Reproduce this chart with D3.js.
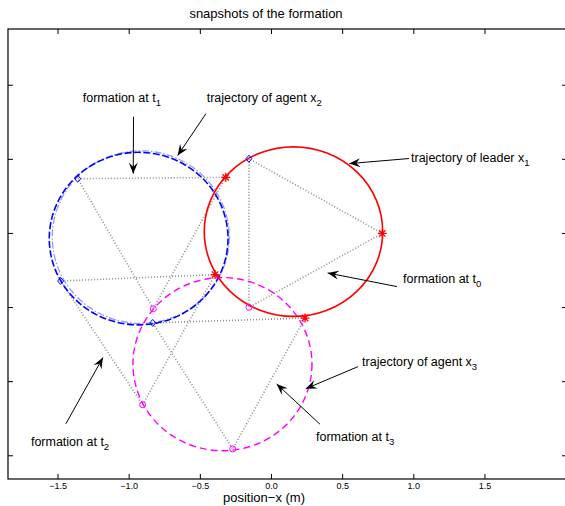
<!DOCTYPE html>
<html>
<head>
<meta charset="utf-8">
<script src="https://cdn.jsdelivr.net/npm/d3@7"></script>
<style>
  body { margin: 0; background: #fff; }
  text { font-family: "Liberation Sans", Arial, sans-serif; }
</style>
</head>
<body>
<svg id="chart" width="565" height="506"></svg>
<script>
// tick values
const xTicks = [-1.5, -1, -0.5, 0, 0.5, 1, 1.5];
const yTicks = [-1.5, -1, -0.5, 0, 0.5, 1];

// trajectories: center x, center y, radius x, radius y
const leaderTraj = { cx: 0.158, cy: 0.009, rx: 0.627, ry: 0.572 };
const agent2Traj = { cx: -0.930, cy: -0.038, rx: 0.628, ry: 0.582 };
const agent2TrajB = { cx: -0.915, cy: -0.028, rx: 0.622, ry: 0.582 };
const agent3Traj = { cx: -0.341, cy: -0.885, rx: 0.629, ry: 0.584 };

// positions at t0..t3
const leaderPos = [[0.782, -0.003], [-0.318, 0.375], [-0.393, -0.281], [0.239, -0.574]];
const agent2Pos = [[-0.155, 0.501], [-1.358, 0.366], [-1.478, -0.324], [-0.831, -0.607]];
const agent3Pos = [[-0.155, -0.502], [-0.827, -0.511], [-0.902, -1.159], [-0.269, -1.457]];

// annotations: text, subscript, text anchor point, arrow start, arrow tip
const notes = [
  { t: "formation at t", s: "1", at: [-1.323, 0.886], from: [-0.966, 0.784], to: [-0.968, 0.400] },
  { t: "trajectory of agent x", s: "2", at: [-0.452, 0.886], from: [-0.457, 0.805], to: [-0.656, 0.522] },
  { t: "trajectory of leader x", s: "1", at: [0.984, 0.481], from: [0.970, 0.502], to: [0.550, 0.468] },
  { t: "formation at t", s: "0", at: [0.928, -0.335], from: [0.885, -0.362], to: [0.398, -0.270] },
  { t: "trajectory of agent x", s: "3", at: [0.640, -0.895], from: [0.611, -0.902], to: [0.244, -1.051] },
  { t: "formation at t", s: "3", at: [0.316, -1.401], from: [0.344, -1.290], to: [0.040, -1.019] },
  { t: "formation at t", s: "2", at: [-1.687, -1.435], from: [-1.441, -1.287], to: [-1.181, -0.841] }
];

const plotL = 8, plotR = 567, plotT = 29, plotB = 479;

const svg = d3.select("#chart");

const x = d3.scaleLinear().domain([-1.848, 2.08]).range([plotL, plotR]);
const y = d3.scaleLinear().domain([-1.66, 1.376]).range([plotB, plotT]);

svg.append("defs").append("marker")
  .attr("id", "arrow")
  .attr("viewBox", "-11 -5 12 10")
  .attr("refX", 0).attr("refY", 0)
  .attr("markerWidth", 12).attr("markerHeight", 10)
  .attr("markerUnits", "userSpaceOnUse")
  .attr("orient", "auto")
  .append("path")
  .attr("d", "M0,0 L-11,-4.5 L-7,0 L-11,4.5 Z")
  .attr("fill", "#000");

// axes
svg.append("g")
  .attr("transform", "translate(0," + plotB + ")")
  .call(d3.axisBottom(x).tickValues(xTicks).tickSizeInner(-5).tickSizeOuter(0).tickPadding(4))
  .call(g => g.select(".domain").remove())
  .call(g => g.selectAll("text").style("font-size", "9px").attr("fill", "#000"));

svg.append("g")
  .attr("transform", "translate(0," + plotT + ")")
  .call(d3.axisTop(x).tickValues(xTicks).tickSizeInner(-5).tickSizeOuter(0).tickFormat(""))
  .call(g => g.select(".domain").remove());

svg.append("g")
  .attr("transform", "translate(" + plotL + ",0)")
  .call(d3.axisLeft(y).tickValues(yTicks).tickSizeInner(-5).tickSizeOuter(0).tickFormat(""))
  .call(g => g.select(".domain").remove());

svg.append("g")
  .attr("transform", "translate(" + plotR + ",0)")
  .call(d3.axisRight(y).tickValues(yTicks).tickSizeInner(-5).tickSizeOuter(0).tickFormat(""))
  .call(g => g.select(".domain").remove());

svg.append("rect")
  .attr("x", plotL).attr("y", plotT)
  .attr("width", plotR - plotL).attr("height", plotB - plotT)
  .attr("fill", "none").attr("stroke", "#000").attr("stroke-width", 1.2);

// formation triangles
for (let i = 0; i < 4; i++) {
  const pts = [leaderPos[i], agent2Pos[i], agent3Pos[i], leaderPos[i]];
  svg.append("path")
    .attr("d", d3.line().x(d => x(d[0])).y(d => y(d[1]))(pts))
    .attr("fill", "none")
    .attr("stroke", "#8c8c8c")
    .attr("stroke-width", 1.6)
    .attr("stroke-dasharray", "1,2");
}

// trajectories
function drawTraj(tr, color, width, dash) {
  svg.append("ellipse")
    .attr("cx", x(tr.cx)).attr("cy", y(tr.cy))
    .attr("rx", x(tr.cx + tr.rx) - x(tr.cx))
    .attr("ry", y(tr.cy) - y(tr.cy + tr.ry))
    .attr("fill", "none")
    .attr("stroke", color)
    .attr("stroke-width", width)
    .attr("stroke-dasharray", dash);
}
drawTraj(agent2TrajB, "#8a98ff", 1.2, "7,2,1.5,2");
drawTraj(agent2Traj, "#0000ff", 1.6, "7,2.5");
drawTraj(agent3Traj, "#ff00ff", 1.4, "7,4");
drawTraj(leaderTraj, "#ff0000", 1.6, null);

// markers
svg.selectAll(".m3").data(agent3Pos).enter().append("circle")
  .attr("cx", d => x(d[0])).attr("cy", d => y(d[1])).attr("r", 3)
  .attr("fill", "none").attr("stroke", "#ff00ff").attr("stroke-width", 1);

svg.selectAll(".m2").data(agent2Pos).enter().append("path")
  .attr("transform", d => "translate(" + x(d[0]) + "," + y(d[1]) + ")")
  .attr("d", "M0,-3.5 L3,0 L0,3.5 L-3,0 Z")
  .attr("fill", "none").attr("stroke", "#0000ff").attr("stroke-width", 1);

svg.selectAll(".m1").data(leaderPos).enter().append("path")
  .attr("transform", d => "translate(" + x(d[0]) + "," + y(d[1]) + ")")
  .attr("d", "M-4.5,0H4.5M0,-4.5V4.5M-3.2,-3.2L3.2,3.2M-3.2,3.2L3.2,-3.2")
  .attr("fill", "none").attr("stroke", "#ff0000").attr("stroke-width", 1.3);

// annotations
notes.forEach(n => {
  svg.append("line")
    .attr("x1", x(n.from[0])).attr("y1", y(n.from[1]))
    .attr("x2", x(n.to[0])).attr("y2", y(n.to[1]))
    .attr("stroke", "#000").attr("stroke-width", 1)
    .attr("marker-end", "url(#arrow)");
  const t = svg.append("text")
    .attr("x", x(n.at[0])).attr("y", y(n.at[1]))
    .style("font-size", "12.5px").attr("fill", "#000");
  t.append("tspan").text(n.t);
  t.append("tspan").attr("dy", 4.5).style("font-size", "9.5px").text(n.s);
});

// title and label
svg.append("text")
  .attr("x", 266).attr("y", 18)
  .attr("text-anchor", "middle")
  .style("font-size", "13px")
  .text("snapshots of the formation");

svg.append("text")
  .attr("x", 264).attr("y", 502)
  .attr("text-anchor", "middle")
  .style("font-size", "13px")
  .text("position\u2212x (m)");
</script>
</body>
</html>
